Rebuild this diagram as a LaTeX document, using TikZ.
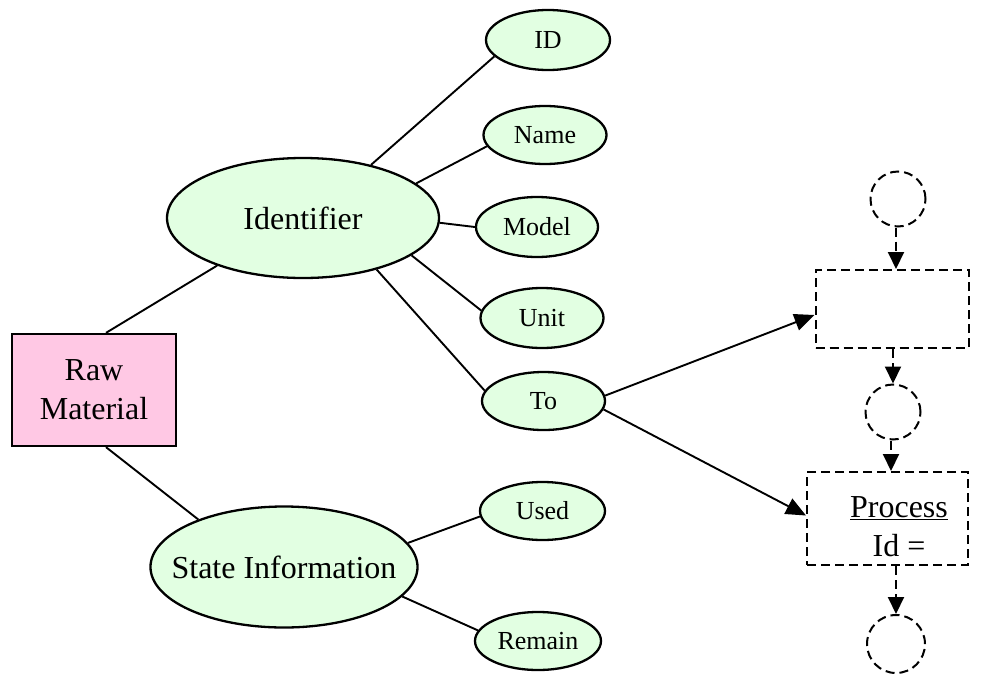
\documentclass[tikz,border=0pt]{standalone}
\usepackage{fontspec}
\setmainfont{Liberation Serif}
\usetikzlibrary{arrows.meta,shapes.geometric}
\definecolor{rawpink}{RGB}{255,200,228}
\definecolor{attrgreen}{RGB}{226,255,226}
\tikzset{
  bigtext/.style={font=\fontsize{32}{39}\selectfont},
  smalltext/.style={font=\fontsize{26}{30}\selectfont},
  entity/.style={draw, line width=2.3pt, fill=rawpink, inner sep=0pt, align=center, bigtext},
  groupell/.style={ellipse, draw, line width=2.3pt, fill=attrgreen, inner sep=0pt, bigtext},
  attrell/.style={ellipse, draw, line width=2.3pt, fill=attrgreen, inner sep=0pt,
                  minimum width=123pt, minimum height=58pt, smalltext},
  link/.style={line width=1.9pt},
  flow/.style={line width=1.9pt, -{Triangle[length=20pt,width=17pt]}},
  dashbox/.style={draw, line width=2pt, dash pattern=on 9pt off 5pt, inner sep=0pt},
  dashcirc/.style={circle, draw, line width=2pt, dash pattern=on 9pt off 5pt, inner sep=0pt},
  dashflow/.style={line width=2pt, dash pattern=on 9pt off 5pt,
                   -{Triangle[length=17pt,width=16pt]}}
}
\begin{document}
\begin{tikzpicture}[x=1pt,y=-1pt]
\useasboundingbox (0,0) rectangle (986,675);

% main entity and its two attribute groups
\node[entity, minimum width=164pt, minimum height=112pt] (raw) at (94,390) {Raw\\Material};
\node[groupell, minimum width=272pt, minimum height=120pt] (ident) at (303,218) {Identifier};
\node[groupell, inner xsep=-18pt, minimum width=267pt, minimum height=121pt] (state) at (284,567) {State Information};

% attributes
\node[attrell, minimum width=124pt, minimum height=60pt] (id) at (548,40) {ID};
\node[attrell] (name) at (545,135) {Name};
\node[attrell, minimum width=122pt, minimum height=60pt] (model) at (537,227) {Model};
\node[attrell, minimum height=60pt] (unit) at (542,318) {Unit};
\node[attrell] (to) at (543.5,401) {To};
\node[attrell, minimum width=125pt] (used) at (542.5,511) {Used};
\node[attrell, minimum width=126pt] (remain) at (538,641) {Remain};

% process chain
\node[dashcirc, minimum size=55pt] (c1) at (898,199) {};
\node[dashbox, minimum width=153pt, minimum height=78pt] (box1) at (892,309) {};
\node[dashcirc, minimum size=55pt] (c2) at (893,412) {};
\node[dashbox, minimum width=161pt, minimum height=93pt] (box2) at (887.5,518.5) {};
\node[bigtext, align=center, inner sep=0pt] (ptext) at (899,527) {\underline{Process}\\Id =};
\node[dashcirc, minimum size=58pt] (c3) at (896,644) {};

% connectors of the entity
\coordinate (rawtop) at ([xshift=12pt]raw.north);
\coordinate (rawbot) at ([xshift=12pt]raw.south);
\draw[link] (rawtop) -- (ident.209.7);
\draw[link] (rawbot) -- (state.151);

\draw[link] (ident.38.3) -- (id.197);
\draw[link] (ident.17.1) -- (name.191);
\draw[link] (ident.-2.5) -- (model.180);
\draw[link] (ident.-19.7) -- (unit.173.6);
\draw[link] (ident.-35.1) -- (to.170);
\draw[link] (state.11.7) -- (used.185.6);
\draw[link] (state.-14.7) -- (remain.170);

% references to processes
\draw[flow] (to.5.8) -- ([yshift=-6pt]box1.west);
\draw[flow] (to.-8.4) -- ([yshift=3pt]box2.west);

% dashed process flow
\draw[dashflow] ([xshift=-2pt]c1.south) -- ([xshift=-2pt]c1.south |- box1.north);
\draw[dashflow] (c2.north |- box1.south) -- (c2.north);
\draw[dashflow] ([xshift=-2pt]c2.south) -- ([xshift=-2pt]c2.south |- box2.north);
\draw[dashflow] (c3.north |- box2.south) -- (c3.north);
\end{tikzpicture}
\end{document}
